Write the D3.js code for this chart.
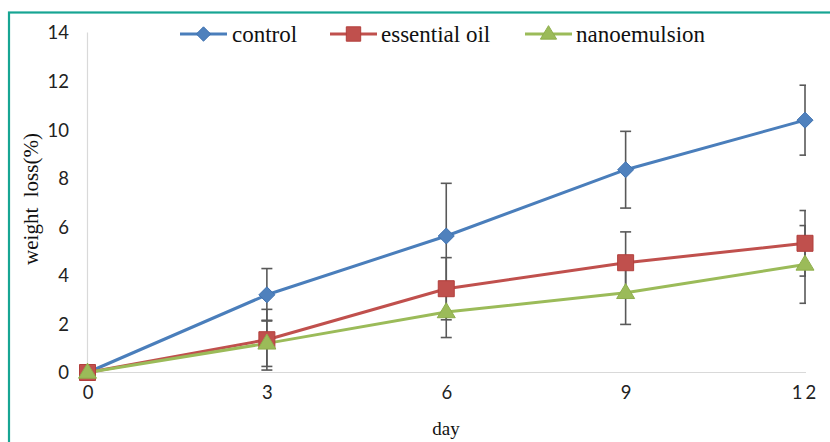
<!DOCTYPE html>
<html>
<head>
<meta charset="utf-8">
<script src="https://cdn.jsdelivr.net/npm/d3@7/dist/d3.min.js"></script>
<style>
  html, body { margin: 0; padding: 0; background: #fff; }
  svg { display: block; }
  .serif { font-family: "Liberation Serif", "Times New Roman", serif; }
  .sans { font-family: Lato, "Open Sans", sans-serif; }
</style>
</head>
<body>
<svg id="chart" width="830" height="442"></svg>
<script>
// Weight loss (%) over storage days, mean ± SD per treatment
const days = [0, 3, 6, 9, 12];
const xTickLabels = ["0", "3", "6", "9", "12"];
const yTicks = [0, 2, 4, 6, 8, 10, 12, 14];

const seriesNames = ["control", "essential oil", "nanoemulsion"];
const controlValues = [0, 3.2, 5.62, 8.35, 10.39];
const controlErrors = [0, 1.08, 2.17, 1.58, 1.44];
const oilValues = [0, 1.35, 3.45, 4.52, 5.32];
const oilErrors = [0, 1.25, 1.28, 1.27, 1.35];
const nanoValues = [0, 1.2, 2.49, 3.28, 4.45];
const nanoErrors = [0, 0.95, 1.05, 1.3, 1.6];

const series = [
  { name: seriesNames[0], values: controlValues, errors: controlErrors,
    color: "#4a7ebb", fill: "#4f81bd", stroke: "#3f72b0", symbol: "diamond" },
  { name: seriesNames[1], values: oilValues, errors: oilErrors,
    color: "#c0504d", fill: "#c0504d", stroke: "#b23f3c", symbol: "square" },
  { name: seriesNames[2], values: nanoValues, errors: nanoErrors,
    color: "#9bbb59", fill: "#9bbb59", stroke: "#8eae4c", symbol: "triangle" }
];

const svg = d3.select("#chart");

// Teal frame along the top and left edges
svg.append("rect")
  .attr("x", 9).attr("y", 12.5)
  .attr("width", 900).attr("height", 500)
  .attr("fill", "none")
  .attr("stroke", "#17a593")
  .attr("stroke-width", 2.2);

const x = d3.scaleLinear().domain([0, 12]).range([87.5, 805]);
const y = d3.scaleLinear().domain([0, 14]).range([372.5, 32.5]);

// Axis lines
svg.append("line")
  .attr("x1", x(0)).attr("x2", x(0))
  .attr("y1", y(14)).attr("y2", y(0))
  .attr("stroke", "#d9d9d9").attr("stroke-width", 1.2);
svg.append("line")
  .attr("x1", x(0)).attr("x2", 806)
  .attr("y1", y(0)).attr("y2", y(0))
  .attr("stroke", "#d9d9d9").attr("stroke-width", 1.2);

// Y axis tick labels
const yAxis = d3.axisLeft(y).tickValues(yTicks).tickSize(0).tickPadding(0)
  .tickFormat(d3.format("d"));
const gy = svg.append("g").attr("transform", "translate(69,0)").call(yAxis);
gy.select(".domain").remove();
gy.attr("font-family", null).attr("font-size", null);
gy.selectAll("text")
  .attr("class", "sans")
  .style("font-size", "18.5px")
  .attr("fill", "#222")
  .attr("dy", "0.35em");

// X axis tick labels
const xAxis = d3.axisBottom(x).tickValues(days).tickSize(0).tickPadding(0)
  .tickFormat((d, i) => xTickLabels[i]);
const gx = svg.append("g").attr("transform", "translate(0,386)").call(xAxis);
gx.select(".domain").remove();
gx.attr("font-family", null).attr("font-size", null);
gx.selectAll("text")
  .attr("class", "sans")
  .style("font-size", "18.5px")
  .attr("fill", "#222")
  .attr("dy", "0.71em")
  .attr("letter-spacing", (d) => d === 12 ? "3px" : null);

// Axis titles
svg.append("text")
  .attr("class", "serif")
  .attr("x", 446).attr("y", 435)
  .attr("text-anchor", "middle")
  .style("font-size", "19px")
  .attr("fill", "#111")
  .text("day");

svg.append("text")
  .attr("class", "serif")
  .attr("transform", "translate(38,199) rotate(-90)")
  .attr("text-anchor", "middle")
  .style("font-size", "21px")
  .style("white-space", "pre")
  .attr("fill", "#111")
  .text("weight  loss(%)");

// Error bars are clipped to the plot area
svg.append("defs").append("clipPath").attr("id", "plotClip")
  .append("rect").attr("x", 0).attr("y", 0).attr("width", 806).attr("height", 442);

const errG = svg.append("g").attr("clip-path", "url(#plotClip)");
series.forEach(s => {
  days.forEach((d, i) => {
    const e = s.errors[i];
    if (!e) return;
    const cx = x(d), top = y(s.values[i] + e), bot = y(s.values[i] - e);
    const g = errG.append("g").attr("stroke", "#595959").attr("stroke-width", 1.6);
    g.append("line").attr("x1", cx).attr("x2", cx).attr("y1", top).attr("y2", bot);
    g.append("line").attr("x1", cx - 5.5).attr("x2", cx + 5.5).attr("y1", top).attr("y2", top);
    g.append("line").attr("x1", cx - 5.5).attr("x2", cx + 5.5).attr("y1", bot).attr("y2", bot);
  });
});

// Series lines
const line = d3.line().x((d, i) => x(days[i])).y(d => y(d));
series.forEach(s => {
  svg.append("path")
    .attr("d", line(s.values))
    .attr("fill", "none")
    .attr("stroke", s.color)
    .attr("stroke-width", 3)
    .attr("stroke-linejoin", "round");
});

// Marker shapes
function marker(g, kind, cx, cy, s, scale) {
  const k = scale || 1;
  let path;
  if (kind === "diamond") {
    const r = 8 * k;
    path = `M${cx},${cy - r}L${cx + r},${cy}L${cx},${cy + r}L${cx - r},${cy}Z`;
  } else if (kind === "square") {
    const h = 8 * k;
    path = `M${cx - h},${cy - h}H${cx + h}V${cy + h}H${cx - h}Z`;
  } else {
    const w = 9 * k, h = 15 * k;
    path = `M${cx},${cy - h * 0.62}L${cx + w},${cy + h * 0.38}L${cx - w},${cy + h * 0.38}Z`;
  }
  g.append("path").attr("d", path)
    .attr("fill", s.fill).attr("stroke", s.stroke).attr("stroke-width", 1);
}

series.forEach(s => {
  const g = svg.append("g");
  s.values.forEach((v, i) => marker(g, s.symbol, x(days[i]), y(v), s, 1));
});

// Legend
const legendItems = [
  { lx: 180, tx: 232 },
  { lx: 330, tx: 381 },
  { lx: 525, tx: 576 }
];
const ly = 34;
series.forEach((s, i) => {
  const it = legendItems[i];
  const g = svg.append("g");
  g.append("line")
    .attr("x1", it.lx).attr("x2", it.lx + 47)
    .attr("y1", ly).attr("y2", ly)
    .attr("stroke", s.color).attr("stroke-width", 3);
  marker(g, s.symbol, it.lx + 23.5, ly, s, 0.9);
  g.append("text")
    .attr("class", "serif")
    .attr("x", it.tx).attr("y", ly)
    .attr("dy", "0.33em")
    .style("font-size", "23px")
    .attr("fill", "#111")
    .text(s.name);
});
</script>
</body>
</html>
